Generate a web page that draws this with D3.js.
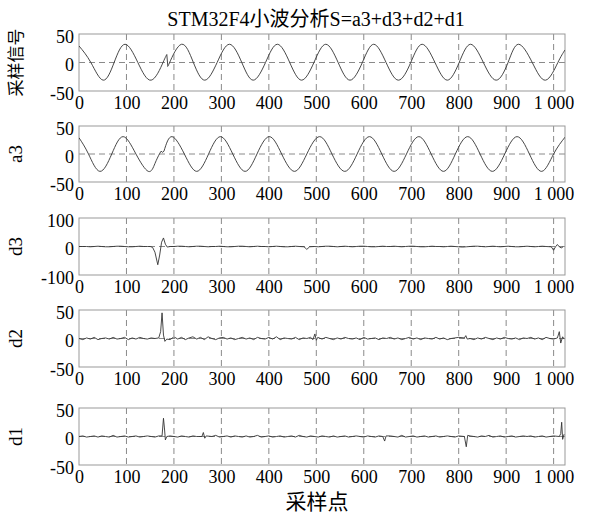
<!DOCTYPE html>
<html>
<head>
<meta charset="utf-8">
<script src="https://cdn.jsdelivr.net/npm/d3@7"></script>
<style>
  body { margin: 0; background: #fff; }
  text { font-family: "Liberation Serif", "Times New Roman", "Noto Sans CJK SC", serif; fill: #000; }
</style>
</head>
<body>
<div id="chart"></div>
<script>

// DATA

const xTicks = [0, 100, 200, 300, 400, 500, 600, 700, 800, 900, 1000];

// sampled signal S: key points (extrema / zero crossings), phase jump near 186
const signalSeg1 = [[0,29],[25,0],[51,-31],[74,0],[97,32],[124,0],[152,-31],[177,0],[185,14]];
const signalSeg2 = [[187,-5],[191,0],[216,32],[241,0],[265,-31],[291,0],[317,32],[343,0],[367,-31],
  [393,0],[418,32],[444,0],[469,-31],[495,0],[520,32],[546,0],[571,-31],[597,0],[621,32],[647,0],
  [673,-31],[699,0],[723,32],[750,0],[776,-31],[801,0],[825,32],[852,0],[879,-31],[904,0],[926,32],
  [955,0],[983,-31],[1009,0],[1024,22]];

// approximation a3
const a3Seg1 = [[0,29],[20,0],[44,-31],[69,0],[93,31],[120,0],[146,-31],[160,-17],[170,1]];
const a3Wiggle = [[170,1],[173,5],[176,3],[179,5]];
const a3Seg2 = [[179,5],[196,31],[222,0],[248,-31],[273,0],[298,31],[324,0],[350,-31],[375,0],
  [401,31],[427,0],[454,-31],[480,0],[507,31],[533,0],[560,-31],[586,0],[612,31],[638,0],[664,-31],
  [690,0],[716,31],[742,0],[768,-31],[793,0],[819,31],[845,0],[871,-31],[897,0],[923,31],[949,0],
  [975,-31],[1000,0],[1024,30]];

// detail coefficients: background wiggle every 8 samples + visible features
const noiseStep = 8;

const d3Base = [
  0,0,0,-1,0,1,0,-1,-1,0,
  1,1,0,-1,-1,0,1,0,0,0,
  0,0,0,0,-1,0,1,1,0,-1,
  0,1,1,0,-1,0,0,1,0,-1,
  -1,0,1,1,0,-1,0,1,0,0,
  -1,0,1,0,-1,-1,0,1,0,-1,
  0,1,0,-1,0,1,1,0,-1,0,
  1,0,-1,0,1,1,0,-1,-1,0,
  1,0,0,1,0,-1,0,1,1,0,
  -1,-1,0,1,0,0,-1,0,1,0,
  -1,-2,-1,0,1,1,0,-1,0,1,
  0,-1,0,1,0,-1,-1,0,1,0,
  -1,0,1,0,-1,0,0,0,0];
const d3Features = [[150,0],[155,-3],[160,-20],[166,-64],[170,-30],[174,15],[178,30],[182,8],[186,-2],
  [192,0],[474,-1],[480,-10],[486,-1],[995,-1],[1000,-13],[1004,-1],[1008,7],[1012,-1],[1016,-5],[1020,-1]];

const d2Base = [
  0,-2,1,-1,2,-2,0,1,-1,2,
  -1,0,2,-2,1,-1,2,0,-1,1,
  0,-1,1,0,-2,3,-1,2,-2,1,
  3,-1,2,-2,3,0,-2,1,2,-1,
  1,-2,0,2,-1,1,-2,2,0,-1,
  2,-1,3,-2,1,0,-1,2,-2,1,
  0,2,-2,1,-1,2,0,-2,1,-1,
  2,0,-1,1,-2,2,-1,0,1,-2,
  1,0,2,-1,1,-2,0,2,-1,1,
  -2,1,0,-1,2,-1,1,-2,0,1,
  2,-1,3,0,-2,1,-1,2,0,-2,
  1,-1,2,0,-1,1,-2,1,0,2,
  -1,1,-2,2,0,-1,1,-2,2];
const d2Features = [[168,1],[172,12],[175,45],[178,6],[181,-5],[185,-1],[493,-2],[497,8],[500,-3],
  [503,2],[812,1],[815,5],[818,-1],[1008,1],[1012,12],[1015,-8],[1019,3],[1022,-1]];

const d1Base = [
  0,1,-1,0,1,-1,1,0,-1,2,
  -1,0,1,-1,0,1,-1,0,1,0,
  -1,1,0,-1,1,0,-1,1,0,-1,
  1,0,-1,1,-1,0,2,-1,0,1,
  -1,1,0,-1,1,-1,0,2,-1,0,
  1,-1,0,1,-1,0,1,-1,2,0,
  -1,1,0,-1,1,0,-1,1,-1,0,
  1,-1,0,1,0,-1,1,0,-1,1,
  0,-1,1,0,-1,2,-1,0,1,-1,
  0,1,-1,0,1,-1,0,1,0,-1,
  1,0,-1,1,0,-1,1,0,2,-1,
  0,1,-1,0,1,-1,0,1,0,1,
  -1,0,1,-1,0,1,-1,1,0];
const d1Features = [[175,1],[178,32],[180,15],[182,-6],[185,0],[259,0],[262,7],[265,-3],[268,1],
  [640,0],[644,-8],[647,1],[812,0],[816,-18],[819,2],[1012,0],[1015,5],[1017,25],[1019,-5],[1022,4]];


// LAYOUT

const W = 592, H = 525;
const plotLeft = 79, plotRight = 565;

const panels = [
  { label: '采样信号', top: 34, bottom: 91, dom: [-50, 50], ticks: [-50, 0, 50], labelSize: 17 },
  { label: 'a3', top: 126, bottom: 182, dom: [-50, 50], ticks: [-50, 0, 50], labelSize: 19 },
  { label: 'd3', top: 218, bottom: 275, dom: [-100, 100], ticks: [-100, 0, 100], labelSize: 19 },
  { label: 'd2', top: 310, bottom: 367, dom: [-50, 50], ticks: [-50, 0, 50], labelSize: 19 },
  { label: 'd1', top: 408, bottom: 465, dom: [-50, 50], ticks: [-50, 0, 50], labelSize: 19 }
];

function mergeNoise(base, features) {
  const pts = base.map((v, i) => [i * noiseStep, v])
    .filter(p => !features.some(f => Math.abs(f[0] - p[0]) < 5));
  return pts.concat(features).sort((a, b) => a[0] - b[0]);
}

const svg = d3.select('#chart').append('svg')
  .attr('width', W)
  .attr('height', H);

svg.append('rect').attr('width', W).attr('height', H).attr('fill', '#fff');

const x = d3.scaleLinear().domain([0, 1024]).range([plotLeft, plotRight]);

svg.append('text')
  .attr('x', 316)
  .attr('y', 26)
  .attr('text-anchor', 'middle')
  .style('font-size', '20px')
  .text('STM32F4小波分析S=a3+d3+d2+d1');

panels.forEach((p, i) => {
  const y = d3.scaleLinear().domain(p.dom).range([p.bottom, p.top]);
  const g = svg.append('g');

  g.append('clipPath').attr('id', 'clip' + i)
    .append('rect')
    .attr('x', plotLeft).attr('y', p.top)
    .attr('width', plotRight - plotLeft).attr('height', p.bottom - p.top);

  // grid
  g.selectAll('.vgrid')
    .data(xTicks.filter(t => t > 0))
    .enter().append('line')
    .attr('x1', d => x(d)).attr('x2', d => x(d))
    .attr('y1', p.top).attr('y2', p.bottom)
    .attr('stroke', '#8a8a8a').attr('stroke-width', 1)
    .attr('stroke-dasharray', '6,4');

  g.append('line')
    .attr('x1', plotLeft).attr('x2', plotRight)
    .attr('y1', y(0)).attr('y2', y(0))
    .attr('stroke', '#8a8a8a').attr('stroke-width', 1)
    .attr('stroke-dasharray', '6,4');

  // frame
  g.append('rect')
    .attr('x', plotLeft).attr('y', p.top)
    .attr('width', plotRight - plotLeft).attr('height', p.bottom - p.top)
    .attr('fill', 'none').attr('stroke', '#999').attr('stroke-width', 1);

  // axes
  const xAxis = d3.axisBottom(x)
    .tickValues(xTicks)
    .tickSize(0)
    .tickPadding(5)
    .tickFormat(d => d === 1000 ? '1 000' : String(d));
  const ax = g.append('g')
    .attr('transform', 'translate(0,' + p.bottom + ')')
    .call(xAxis);
  ax.select('.domain').remove();
  ax.selectAll('text').style('font-size', '18px').attr('fill', '#000');

  const yAxis = d3.axisLeft(y)
    .tickValues(p.ticks)
    .tickSize(0)
    .tickPadding(5)
    .tickFormat(d => String(d));
  const ay = g.append('g')
    .attr('transform', 'translate(' + plotLeft + ',0)')
    .call(yAxis);
  ay.select('.domain').remove();
  ay.selectAll('text').style('font-size', '18px').attr('dy', '0.45em').attr('fill', '#000');

  // panel label
  g.append('text')
    .attr('transform', 'translate(22,' + ((p.top + p.bottom) / 2) + ') rotate(-90)')
    .attr('text-anchor', 'middle')
    .style('font-size', p.labelSize + 'px')
    .text(p.label);

  p.g = g;
  p.y = y;
  p.clip = 'url(#clip' + i + ')';
});

function drawLine(panel, pts, curve) {
  const line = d3.line()
    .x(d => x(d[0]))
    .y(d => panel.y(d[1]))
    .curve(curve);
  panel.g.append('path')
    .datum(pts)
    .attr('d', line)
    .attr('clip-path', panel.clip)
    .attr('fill', 'none')
    .attr('stroke', '#333')
    .attr('stroke-width', 0.9);
}

// S
drawLine(panels[0], signalSeg1, d3.curveNatural);
drawLine(panels[0], [signalSeg1[signalSeg1.length - 1], signalSeg2[0]], d3.curveLinear);
drawLine(panels[0], signalSeg2, d3.curveNatural);

// a3
drawLine(panels[1], a3Seg1, d3.curveNatural);
drawLine(panels[1], a3Wiggle, d3.curveLinear);
drawLine(panels[1], a3Seg2, d3.curveNatural);

// details
drawLine(panels[2], mergeNoise(d3Base, d3Features), d3.curveLinear);
drawLine(panels[3], mergeNoise(d2Base, d2Features), d3.curveLinear);
drawLine(panels[4], mergeNoise(d1Base, d1Features), d3.curveLinear);

svg.append('text')
  .attr('x', 317)
  .attr('y', 509)
  .attr('text-anchor', 'middle')
  .style('font-size', '21px')
  .text('采样点');

</script>
</body>
</html>
